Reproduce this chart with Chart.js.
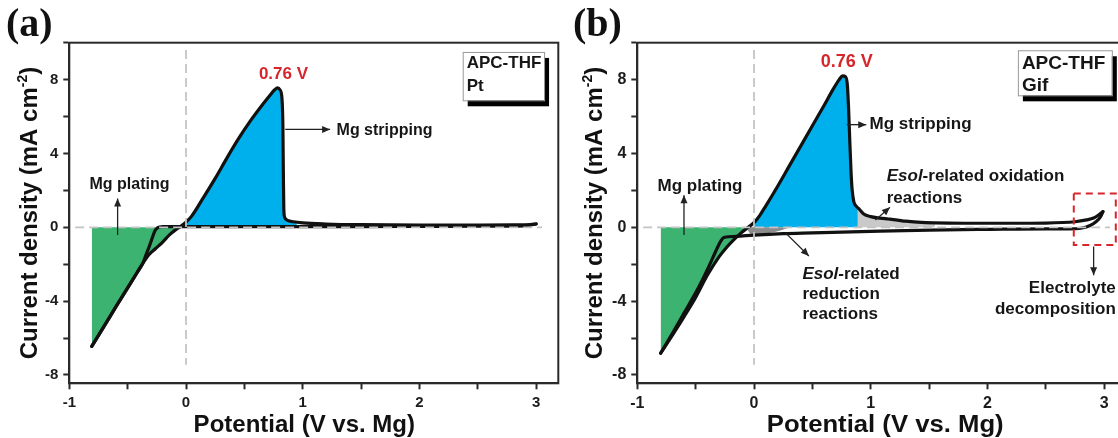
<!DOCTYPE html>
<html>
<head>
<meta charset="utf-8">
<script src="https://cdn.jsdelivr.net/npm/chart.js@4.4.1/dist/chart.umd.min.js"></script>
<style>
  html, body { margin: 0; padding: 0; background: #fff; }
  body { width: 1118px; height: 438px; overflow: hidden; position: relative; }
  canvas { position: absolute; top: 0; }
  #chartA { left: 0; }
  #chartB { left: 568px; }
</style>
</head>
<body>
<canvas id="chartA" width="560" height="438"></canvas>
<canvas id="chartB" width="560" height="438"></canvas>
<script>
// tick labels
const xTickLabels = [-1, 0, 1, 2, 3];
const yTickLabels = [-8, -4, 0, 4, 8];

// (a) APC-THF on Pt : potential (V) / current density (mA cm-2)
const ptAnodicV = [-0.808, -0.7, -0.6, -0.5, -0.42, -0.37, -0.32, -0.26, -0.2, -0.14, -0.09, -0.05, 0, 0.05, 0.15, 0.25, 0.35, 0.45, 0.55, 0.65, 0.72, 0.76, 0.785, 0.805, 0.822, 0.83, 0.834, 0.838, 0.845, 0.87, 0.92, 1.0, 1.2, 1.5, 2.0, 2.5, 2.8, 2.95, 3.0];
const ptAnodicI = [-6.45, -5.34, -4.3, -3.28, -2.46, -1.95, -1.5, -1.15, -0.8, -0.4, -0.14, 0.03, 0.28, 0.62, 1.62, 2.65, 3.75, 4.8, 5.75, 6.6, 7.15, 7.45, 7.55, 7.45, 7.0, 5.5, 3.0, 1.0, 0.55, 0.38, 0.3, 0.24, 0.18, 0.14, 0.12, 0.12, 0.13, 0.15, 0.18];
const ptCathodicV = [-0.808, -0.7, -0.6, -0.5, -0.42, -0.37, -0.34, -0.31, -0.285, -0.265, -0.245, -0.225, -0.2, 0, 0.5, 1.0, 1.5, 2.0, 2.5, 2.9, 3.0];
const ptCathodicI = [-6.45, -5.34, -4.3, -3.28, -2.46, -1.95, -1.45, -0.95, -0.5, -0.17, -0.03, 0.02, 0.04, 0.04, 0.04, 0.04, 0.04, 0.05, 0.06, 0.08, 0.18];

// (b) APC-THF on Gif
const gifAnodicV = [-0.8, -0.7, -0.6, -0.5, -0.4, -0.3, -0.23, -0.17, -0.11, -0.05, 0, 0.05, 0.1, 0.2, 0.3, 0.4, 0.5, 0.6, 0.68, 0.73, 0.76, 0.785, 0.8, 0.81, 0.82, 0.83, 0.84, 0.855, 0.875, 0.9, 0.94, 1.0, 1.08, 1.15, 1.23, 1.3, 1.4, 1.55, 1.8, 2.2, 2.5, 2.75, 2.85, 2.91, 2.96, 2.99];
const gifAnodicI = [-6.82, -5.85, -4.85, -3.8, -2.6, -1.6, -1.05, -0.65, -0.3, 0.0, 0.25, 0.65, 1.15, 2.2, 3.3, 4.4, 5.5, 6.6, 7.5, 8.0, 8.2, 8.15, 7.7, 6.5, 4.8, 3.2, 2.1, 1.4, 1.15, 1.0, 0.72, 0.58, 0.5, 0.45, 0.39, 0.33, 0.28, 0.24, 0.22, 0.22, 0.23, 0.3, 0.4, 0.5, 0.7, 0.85];
const gifCathodicV = [-0.8, -0.7, -0.6, -0.5, -0.45, -0.4, -0.35, -0.31, -0.285, -0.268, -0.25, -0.15, 0, 0.25, 0.5, 1.0, 1.5, 2.0, 2.5, 2.7, 2.8, 2.88, 2.93, 2.97, 2.99];
const gifCathodicI = [-6.82, -5.75, -4.65, -3.55, -2.95, -2.3, -1.6, -1.05, -0.75, -0.6, -0.54, -0.49, -0.42, -0.34, -0.3, -0.22, -0.15, -0.11, -0.08, -0.08, -0.05, 0.1, 0.3, 0.57, 0.85];
// shaded Esol reduction wedge
const gifRedShadeV = [-0.07, -0.02, 0.08, 0.18, 0.3];
const gifRedShadeI = [0, -0.38, -0.36, -0.26, -0.03];

// dashed guides
const zeroGuideV = [-0.95, 3.05];
const zeroGuideI = [0, 0];
const vGuideV = [0, 0];
const vGuideI = [9.6, -7.45];

const FONT = '"Liberation Sans", Arial, sans-serif';
const GREEN = '#3cb371', BLUE = '#00b0ec', LGREY = '#c9c9c9', DGREY = '#8c8c8c', RED = '#d6262c';

function pts(vs, is) { return vs.map((v, i) => ({x: v, y: is[i]})); }
function interp(vs, is, v) {
  for (let i = 0; i < vs.length - 1; i++) {
    if (v >= vs[i] && v <= vs[i + 1]) {
      const t = (v - vs[i]) / (vs[i + 1] - vs[i]);
      return is[i] + t * (is[i + 1] - is[i]);
    }
  }
  return 0;
}
function clip(vs, is, lo, hi) {
  const out = [{x: lo, y: interp(vs, is, lo)}];
  vs.forEach((v, i) => { if (v > lo && v < hi) out.push({x: v, y: is[i]}); });
  out.push({x: hi, y: interp(vs, is, hi)});
  return out;
}
function crossing(vs, is) {
  for (let i = 0; i < is.length - 1; i++) {
    if (is[i] < 0 && is[i + 1] >= 0) return vs[i] + (0 - is[i]) / (is[i + 1] - is[i]) * (vs[i + 1] - vs[i]);
  }
  return 0;
}

function curve(data) {
  return {data, borderColor: '#111', borderWidth: 3.2, pointRadius: 0, fill: false,
    cubicInterpolationMode: 'monotone', borderJoinStyle: 'round', borderCapStyle: 'round', order: 1};
}
function area(data, color, order) {
  return {data, borderWidth: 0, borderColor: 'rgba(0,0,0,0)', backgroundColor: color, pointRadius: 0,
    fill: 'origin', cubicInterpolationMode: 'monotone', order};
}
function guide(data) {
  return {data, borderColor: '#c4c4c4', borderWidth: 1.8, borderDash: [9, 5], pointRadius: 0, fill: false, order: 0};
}

function arrow(ctx, x1, y1, x2, y2) {
  ctx.beginPath(); ctx.moveTo(x1, y1); ctx.lineTo(x2, y2); ctx.stroke();
  const a = Math.atan2(y2 - y1, x2 - x1), L = 8, W = 3.5;
  ctx.beginPath();
  ctx.moveTo(x2, y2);
  ctx.lineTo(x2 - L * Math.cos(a) + W * Math.sin(a), y2 - L * Math.sin(a) - W * Math.cos(a));
  ctx.lineTo(x2 - L * Math.cos(a) - W * Math.sin(a), y2 - L * Math.sin(a) + W * Math.cos(a));
  ctx.closePath(); ctx.fill();
}

const deco = {
  id: 'deco',
  afterDraw(chart) {
    const o = chart.options.plugins.deco;
    const {ctx, chartArea: ca} = chart;
    const px = v => chart.scales.x.getPixelForValue(v);
    const py = v => chart.scales.y.getPixelForValue(v);
    ctx.save();
    // frame
    ctx.strokeStyle = '#2a2a2a'; ctx.lineWidth = 2;
    ctx.strokeRect(ca.left, ca.top, ca.right - ca.left, ca.bottom - ca.top);

    ctx.fillStyle = '#111';
    ctx.textAlign = 'left'; ctx.textBaseline = 'alphabetic';
    ctx.font = 'bold 40px "Liberation Serif", "Times New Roman", serif';
    ctx.fillText(o.letter, o.letterX, 36);

    // x title
    ctx.save();
    ctx.translate((ca.left + ca.right) / 2 + o.xTitleDx, 431.5);
    ctx.scale(o.titleSx, 1);
    ctx.font = 'bold 24px ' + FONT; ctx.textAlign = 'center';
    ctx.fillText('Potential (V vs. Mg)', 0, 0);
    ctx.restore();

    // y title with superscript
    ctx.save();
    ctx.translate(o.yTitleX, (ca.top + ca.bottom) / 2);
    ctx.rotate(-Math.PI / 2);
    ctx.textAlign = 'left';
    const main = 'Current density (mA cm', sup = '-2', end = ')';
    ctx.font = 'bold 24px ' + FONT; const w1 = ctx.measureText(main).width, w3 = ctx.measureText(end).width;
    ctx.font = 'bold 14px ' + FONT; const w2 = ctx.measureText(sup).width;
    let x0 = -(w1 + w2 + w3) / 2;
    ctx.font = 'bold 24px ' + FONT; ctx.fillText(main, x0, 0);
    ctx.font = 'bold 14px ' + FONT; ctx.fillText(sup, x0 + w1, -10);
    ctx.font = 'bold 24px ' + FONT; ctx.fillText(end, x0 + w1 + w2, 0);
    ctx.restore();

    // arrows
    ctx.strokeStyle = '#222'; ctx.fillStyle = '#222'; ctx.lineWidth = 1.3;
    o.arrows.forEach(a => arrow(ctx, px(a[0]), py(a[1]), px(a[2]), py(a[3])));

    // labels
    ctx.textBaseline = 'middle';
    o.texts.forEach(t => {
      ctx.fillStyle = t.color || '#161616';
      ctx.textAlign = t.align || 'left';
      let x = px(t.x);
      const y = py(t.y);
      if (t.parts) {
        ctx.textAlign = 'left';
        t.parts.forEach(p => {
          ctx.font = (p[1] ? 'italic ' : '') + 'bold ' + t.size + 'px ' + FONT;
          ctx.fillText(p[0], x, y);
          x += ctx.measureText(p[0]).width;
        });
      } else {
        ctx.font = 'bold ' + t.size + 'px ' + FONT;
        ctx.fillText(t.t, x, y);
      }
    });

    // red dashed box
    if (o.redBox) {
      const r = o.redBox;
      ctx.save();
      ctx.strokeStyle = RED; ctx.lineWidth = 2; ctx.setLineDash([7, 5]);
      ctx.strokeRect(px(r[0]), py(r[1]), px(r[2]) - px(r[0]), py(r[3]) - py(r[1]));
      ctx.restore();
    }

    // legend box with shadow
    const b = o.box;
    const bx = px(b.x1), by = py(b.y1), bw = px(b.x2) - bx, bh = py(b.y2) - by;
    ctx.fillStyle = '#000';
    ctx.fillRect(bx + 5, by + 6, bw, bh);
    ctx.fillStyle = '#fff';
    ctx.fillRect(bx, by, bw, bh);
    ctx.strokeStyle = '#999'; ctx.lineWidth = 1;
    ctx.strokeRect(bx + 0.5, by + 0.5, bw, bh);
    ctx.fillStyle = '#161616'; ctx.textAlign = 'left'; ctx.textBaseline = 'middle';
    ctx.font = 'bold ' + b.size + 'px ' + FONT;
    b.lines.forEach((s, i) => ctx.fillText(s, bx + 4, by + b.dy[i]));
    ctx.restore();
  }
};

function makeOptions(tickSize, decoCfg) {
  const tickFont = {family: FONT, size: tickSize, weight: 'bold'};
  return {
    responsive: false,
    animation: false,
    devicePixelRatio: 1,
    layout: {padding: {left: 29.3, right: 1.7, top: 42.7, bottom: 24.7}},
    plugins: {legend: {display: false}, tooltip: {enabled: false}, deco: decoCfg},
    scales: {
      x: {
        type: 'linear', min: -1, max: 3.19,
        ticks: {stepSize: 0.5, includeBounds: false, autoSkip: false, maxRotation: 0, padding: 5,
          color: '#1c1c1c', font: tickFont,
          callback: v => xTickLabels.includes(v) ? String(v) : ''},
        grid: {drawOnChartArea: false, tickLength: 6, tickColor: '#2a2a2a', tickWidth: 2},
        border: {color: '#2a2a2a', width: 2},
        afterFit: s => { s.height = 30; }
      },
      y: {
        type: 'linear', min: -8.45, max: 10,
        ticks: {stepSize: 2, includeBounds: false, autoSkip: false, padding: 5,
          color: '#1c1c1c', font: tickFont,
          callback: v => yTickLabels.includes(v) ? String(v) : ''},
        grid: {drawOnChartArea: false, tickLength: 6, tickColor: '#2a2a2a', tickWidth: 2},
        border: {color: '#2a2a2a', width: 2},
        afterFit: s => { s.width = 40; }
      }
    }
  };
}

// panel (a)
const ptCross = crossing(ptAnodicV, ptAnodicI);
new Chart(document.getElementById('chartA'), {
  type: 'line',
  data: {
    datasets: [
      guide(pts(zeroGuideV, zeroGuideI)),
      guide(pts(vGuideV, vGuideI)),
      curve(pts(ptAnodicV, ptAnodicI)),
      curve(pts(ptCathodicV, ptCathodicI)),
      area(clip(ptAnodicV, ptAnodicI, ptAnodicV[0], ptCross), GREEN, 3),
      area(clip(ptAnodicV, ptAnodicI, ptCross, 0.95), BLUE, 3)
    ]
  },
  options: makeOptions(15, {
    letter: '(a)', letterX: 6, yTitleX: 37, xTitleDx: -9.5, titleSx: 1,
    arrows: [[0.85, 5.3, 1.235, 5.3], [-0.586, -0.42, -0.586, 1.56]],
    texts: [
      {t: '0.76 V', x: 0.835, y: 8.29, align: 'center', size: 17, color: RED},
      {t: 'Mg stripping', x: 1.29, y: 5.26, size: 16},
      {t: 'Mg plating', x: -0.484, y: 2.34, align: 'center', size: 16}
    ],
    box: {x1: 2.371, x2: 3.068, y1: 9.5, y2: 6.88, size: 17, lines: ['APC-THF', 'Pt'], dy: [11.6, 34.3]}
  }),
  plugins: [deco]
});

// panel (b)
const gifCross = crossing(gifAnodicV, gifAnodicI);
new Chart(document.getElementById('chartB'), {
  type: 'line',
  data: {
    datasets: [
      guide(pts(zeroGuideV, zeroGuideI)),
      guide(pts(vGuideV, vGuideI)),
      curve(pts(gifAnodicV, gifAnodicI)),
      curve(pts(gifCathodicV, gifCathodicI)),
      area(clip(gifAnodicV, gifAnodicI, gifAnodicV[0], gifCross), GREEN, 3),
      area(clip(gifAnodicV, gifAnodicI, 0, 0.89), BLUE, 3),
      area(clip(gifAnodicV, gifAnodicI, 0.89, 1.55), LGREY, 4),
      area(pts(gifRedShadeV, gifRedShadeI), DGREY, 2)
    ]
  },
  options: makeOptions(16, {
    letter: '(b)', letterX: 5, yTitleX: 34, xTitleDx: 3.4, titleSx: 1.07,
    arrows: [[0.795, 5.56, 0.962, 5.56], [-0.6, -0.42, -0.6, 1.74], [1.04, 0.39, 1.165, 1.08],
             [0.27, -0.3, 0.47, -1.55], [2.91, -1.04, 2.91, -2.6]],
    texts: [
      {t: '0.76 V', x: 0.794, y: 8.95, align: 'center', size: 18, color: RED},
      {t: 'Mg stripping', x: 0.99, y: 5.56, size: 17},
      {t: 'Mg plating', x: -0.463, y: 2.21, align: 'center', size: 17},
      {parts: [['Esol', true], ['-related oxidation', false]], x: 1.137, y: 2.74, size: 17},
      {t: 'reactions', x: 1.137, y: 1.57, size: 17},
      {parts: [['Esol', true], ['-related', false]], x: 0.415, y: -2.53, size: 17},
      {t: 'reduction', x: 0.415, y: -3.61, size: 17},
      {t: 'reactions', x: 0.415, y: -4.7, size: 17},
      {t: 'Electrolyte', x: 3.1, y: -3.29, align: 'right', size: 17},
      {t: 'decomposition', x: 3.1, y: -4.43, align: 'right', size: 17}
    ],
    redBox: [2.74, 1.83, 3.1, -0.96],
    box: {x1: 2.261, x2: 3.066, y1: 9.59, y2: 7.15, size: 19, lines: ['APC-THF', 'Gif'], dy: [13, 35]}
  }),
  plugins: [deco]
});
</script>
</body>
</html>
